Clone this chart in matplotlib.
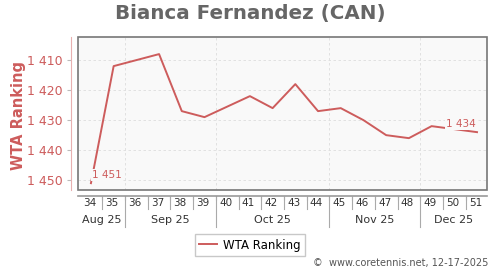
import matplotlib.pyplot as plt
from matplotlib.patches import Rectangle
from matplotlib.ticker import FuncFormatter, FixedLocator
import matplotlib.transforms as mtransforms

# Weekly WTA ranking (weeks of 2025)
weeks = [34, 35, 37, 38, 39, 41, 42, 43, 44, 45, 46, 47, 48, 49, 51]
ranking = [1451, 1412, 1408, 1427, 1429, 1422, 1426, 1418, 1427, 1426, 1430, 1435, 1436, 1432, 1434]
week_labels = list(range(34, 52))
month_names = ['Aug 25', 'Sep 25', 'Oct 25', 'Nov 25', 'Dec 25']
month_bounds = [35.5, 39.5, 44.5, 48.5]
y_ticks = [1410, 1420, 1430, 1440, 1450]

red = '#cd5c5c'
grey = '#777777'

fig = plt.figure(figsize=(5, 2.7), dpi=100)
ax = fig.add_axes([0.156, 0.296, 0.818, 0.567])
ax.set_facecolor('#f9f9f9')

ax.plot(weeks, ranking, color=red, lw=1.4, zorder=3)

x0, x1 = 33.43, 51.44
ax.set_xlim(x0, x1)
ax.set_ylim(1453.3, 1402.3)

# grid
for y in y_ticks:
    ax.axhline(y, color='#dddddd', lw=0.6, ls=(0, (3, 3)), zorder=1)
for b in month_bounds:
    ax.axvline(b, color='#dddddd', lw=0.6, ls=(0, (3, 3)), zorder=1)

# frame around plot area
for s in ['top', 'right']:
    ax.spines[s].set_visible(False)
ax.add_patch(Rectangle((0, 0), 1, 1, transform=ax.transAxes, fill=False,
                       ec=grey, lw=1.2, zorder=4, clip_on=False))

# y axis, offset to the left
ax.spines['left'].set_position(('outward', 5))
ax.spines['left'].set_color('#e8b0b0')
ax.yaxis.set_major_locator(FixedLocator(y_ticks))
ax.yaxis.set_major_formatter(FuncFormatter(lambda v, p: f'{int(v):,}'.replace(',', ' ')))
ax.tick_params(axis='y', colors='#bbbbbb', labelcolor=red, labelsize=9, length=3, width=0.8, pad=3)
ax.set_ylabel('WTA Ranking', color=red, fontsize=10.5, fontweight='bold')
ax.yaxis.set_label_coords(-0.128, 0.49)

# x axis, offset below
ax.spines['bottom'].set_position(('outward', 4))
ax.spines['bottom'].set_color('#999999')
ax.spines['bottom'].set_linewidth(1.2)
bounds = [w + 0.5 for w in week_labels[:-1]]
ax.xaxis.set_major_locator(FixedLocator(bounds))
ax.tick_params(axis='x', colors='#aaaaaa', length=3, width=0.8, labelbottom=False)

trans = mtransforms.blended_transform_factory(ax.transData, fig.transFigure)
for w in week_labels:
    ax.text(w - 0.07, (270 - 203) / 270, str(w), transform=trans, ha='center', va='center',
            fontsize=7.5, color='#333333')
for b in bounds:
    if b in month_bounds:
        ax.plot([b, b], [(270 - 196) / 270, (270 - 227) / 270], transform=trans,
                color='#aaaaaa', lw=0.8, clip_on=False)
    else:
        ax.plot([b, b], [(270 - 197) / 270, (270 - 209) / 270], transform=trans,
                color='#aaaaaa', lw=0.8, clip_on=False)

edges = [x0] + month_bounds + [x1]
for i, name in enumerate(month_names):
    ax.text((edges[i] + edges[i + 1]) / 2, (270 - 220) / 270, name, transform=trans,
            ha='center', va='center', fontsize=8, color='#333333')

# labels on first and last points
ax.text(weeks[0] + 0.05, ranking[0] - 1.0, f'{ranking[0]:,}'.replace(',', ' '),
        color=red, fontsize=7.5, ha='left', va='bottom', zorder=5,
        bbox=dict(facecolor='#f9f9f9', edgecolor='none', pad=0.5))
ax.text(weeks[-1] - 0.05, ranking[-1] - 1.0, f'{ranking[-1]:,}'.replace(',', ' '),
        color=red, fontsize=7.5, ha='right', va='bottom', zorder=5,
        bbox=dict(facecolor='#f9f9f9', edgecolor='none', pad=0.5))

fig.text(0.5, (270 - 14) / 270, 'Bianca Fernandez (CAN)', ha='center', va='center',
         fontsize=14.3, fontweight='bold', color='#666666')

leg_line = plt.Line2D([], [], color=red, lw=1.4)
fig.legend([leg_line], ['WTA Ranking'], loc='center', bbox_to_anchor=(0.5, (270 - 245) / 270),
           fontsize=8.5, frameon=True, fancybox=False, edgecolor='#bbbbbb',
           handlelength=1.5, handletextpad=0.5, borderpad=0.4)

fig.text(0.976, (270 - 263) / 270, '\u00a9  www.coretennis.net, 12-17-2025', ha='right',
         va='center', fontsize=7, color='#555555')

fig.savefig('out.png', dpi=100)
